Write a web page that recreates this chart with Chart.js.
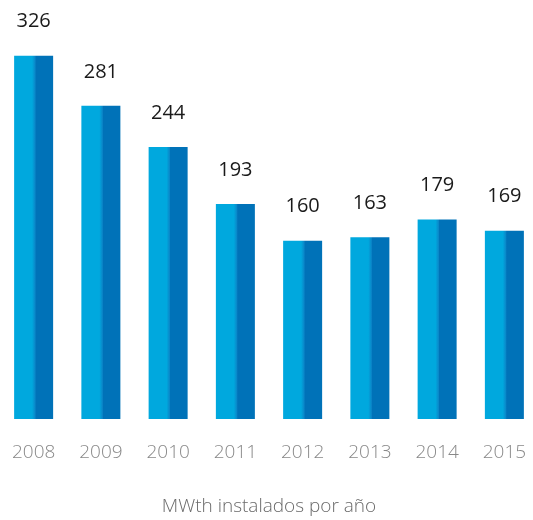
<!DOCTYPE html>
<html>
<head>
<meta charset="utf-8">
<script src="https://cdn.jsdelivr.net/npm/chart.js@4/dist/chart.umd.min.js"></script>
<style>
  html, body { margin: 0; padding: 0; background: #fff; overflow: hidden; }
  #wrap { width: 538px; height: 520px; }
</style>
</head>
<body>
<div id="wrap"><canvas id="chart"></canvas></div>
<script>
const years = ['2008', '2009', '2010', '2011', '2012', '2013', '2014', '2015'];
const mwth = [326, 281, 244, 193, 160, 163, 179, 169];
const axisTitle = 'MWth instalados por año';

const light = '#00a8de';
const dark = '#0072b8';
const barPct = 0.58;

function barFill(ctx) {
    const chart = ctx.chart;
    const xs = chart.scales.x;
    if (!chart.chartArea || !xs) {
        return light;
    }
    const cx = xs.getPixelForValue(ctx.dataIndex);
    const w = (xs.width / years.length) * barPct;
    const g = chart.ctx.createLinearGradient(cx - w / 2, 0, cx + w / 2, 0);
    g.addColorStop(0, light);
    g.addColorStop(0.46, light);
    g.addColorStop(0.54, '#0a86c8');
    g.addColorStop(0.56, dark);
    g.addColorStop(1, dark);
    return g;
}

// numbers above each bar
const valueLabels = {
    id: 'valueLabels',
    afterDatasetsDraw(chart) {
        const c = chart.ctx;
        const meta = chart.getDatasetMeta(0);
        c.save();
        c.font = '400 20px "Open Sans"';
        c.fillStyle = '#1a1a1a';
        c.textAlign = 'center';
        c.textBaseline = 'middle';
        meta.data.forEach(function (bar, i) {
            c.fillText(String(mwth[i]), bar.x, bar.y - 34);
        });
        c.restore();
    }
};

new Chart(document.getElementById('chart'), {
    type: 'bar',
    data: {
        labels: years,
        datasets: [{
            data: mwth,
            backgroundColor: barFill,
            borderWidth: 0,
            barPercentage: barPct,
            categoryPercentage: 1
        }]
    },
    options: {
        responsive: true,
        maintainAspectRatio: false,
        animation: false,
        layout: { padding: 0 },
        plugins: {
            legend: { display: false },
            tooltip: { enabled: false }
        },
        scales: {
            x: {
                grid: { display: false, drawTicks: false },
                border: { display: false },
                ticks: {
                    color: '#888',
                    padding: 22,
                    font: { family: 'Open Sans', size: 19, weight: '300' }
                },
                title: {
                    display: true,
                    text: axisTitle,
                    color: '#6a6a6a',
                    padding: { top: 0, bottom: 2 },
                    font: { family: 'Open Sans', size: 19, weight: '300' }
                },
                afterFit: function (scale) {
                    scale.height = 101;
                    scale.paddingLeft = 0;
                    scale.paddingRight = 0;
                }
            },
            y: {
                display: false,
                min: 0,
                max: 376
            }
        }
    },
    plugins: [valueLabels]
});
</script>
</body>
</html>
